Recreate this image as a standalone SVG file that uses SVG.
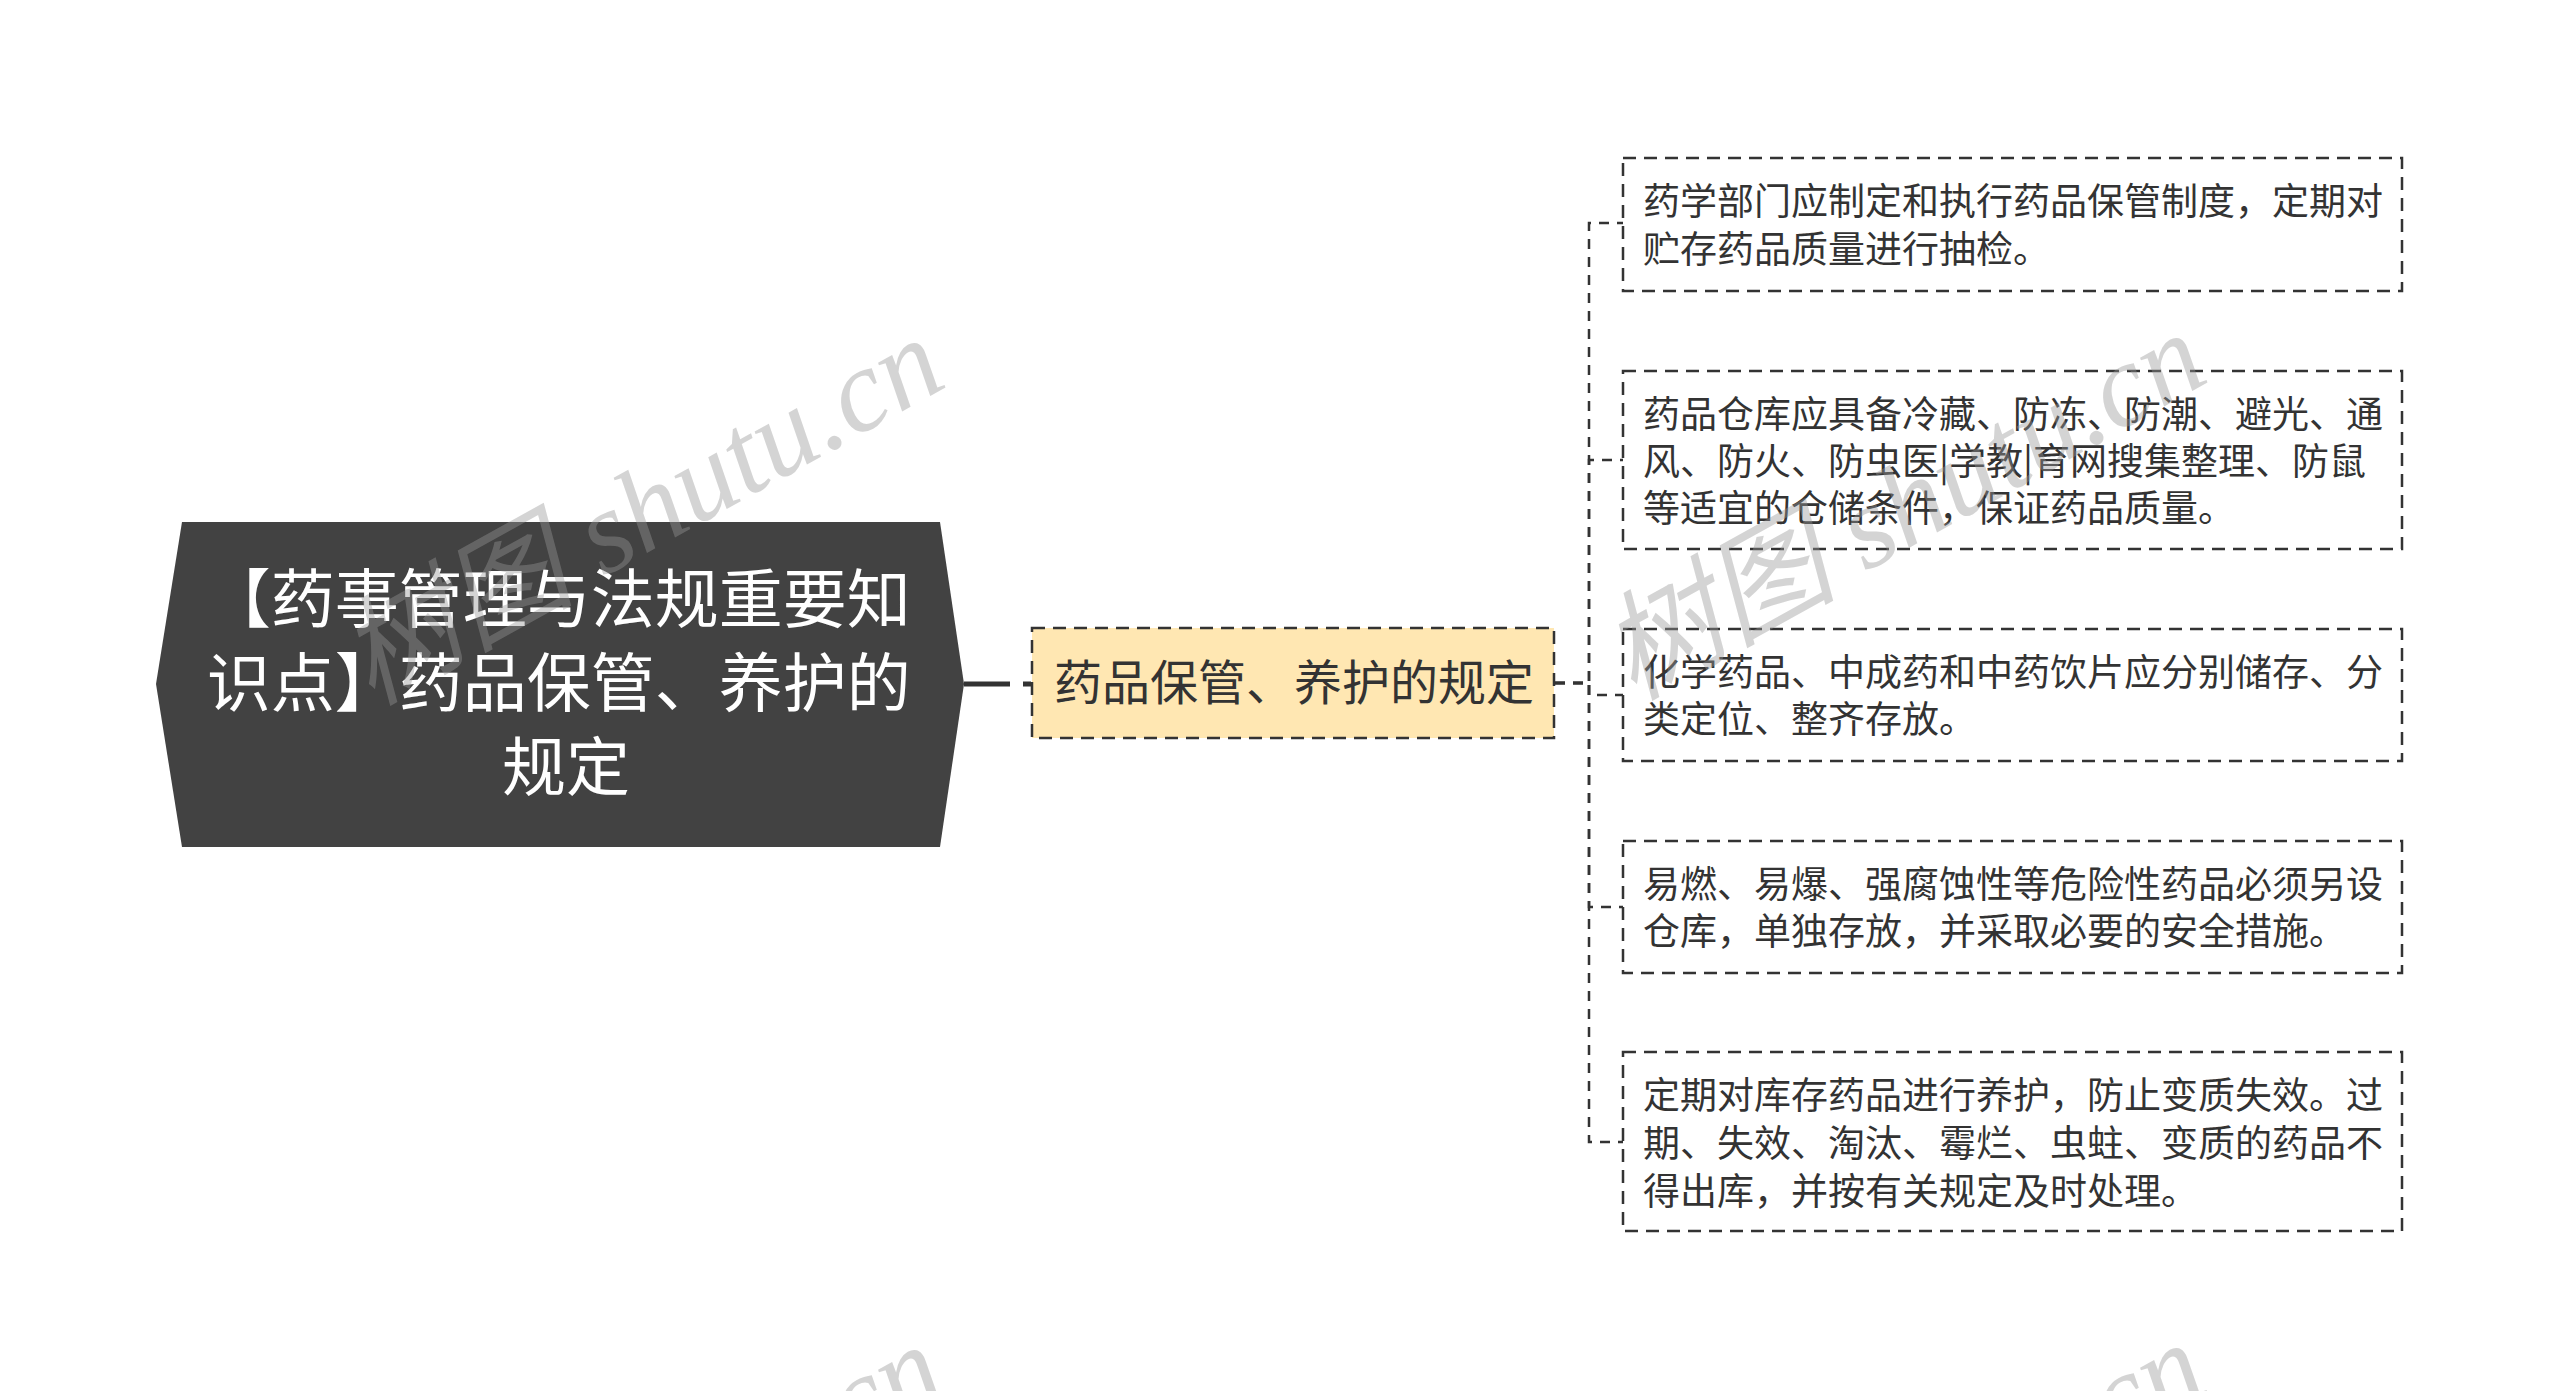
<svg xmlns="http://www.w3.org/2000/svg" width="2560" height="1391" viewBox="0 0 2560 1391">
<style>
.cjk{font-family:"Noto Sans CJK SC","Noto Sans",sans-serif}
.leafbox{fill:#fff;stroke:#333;stroke-width:2.5;stroke-dasharray:13 8}
.leaftxt{font-size:37px;fill:#333}
.conn{fill:none;stroke:#333;stroke-width:2.5;stroke-dasharray:10 8}
.wm{font-family:"Liberation Serif","Noto Sans CJK SC",serif;font-style:italic;font-size:118px;fill:#969696;fill-opacity:0.41}
</style>
<rect width="2560" height="1391" fill="#fff"/>
<g id="connectors">
<path d="M964 684 H1031" fill="none" stroke="#333" stroke-width="5" stroke-dasharray="46 13"/>
<path class="conn" d="M1555 683 H1589 V223 H1623"/>
<path class="conn" d="M1555 683 H1589 V460 H1623"/>
<path class="conn" d="M1555 683 H1589 V695 H1623"/>
<path class="conn" d="M1555 683 H1589 V907 H1623"/>
<path class="conn" d="M1555 683 H1589 V1142 H1623"/>
</g>
<g id="root">
<polygon points="182,522 940,522 964,684 940,847 182,847 156,684" fill="#424242"/>
<text class="cjk" font-size="64" fill="#fff" text-anchor="middle">
<tspan x="566" y="622">【药事管理与法规重要知</tspan>
<tspan x="566" y="706">识点】药品保管、养护的</tspan>
<tspan x="566" y="790">规定</tspan>
</text>
</g>
<g id="main">
<rect x="1032" y="628" width="522" height="110" fill="#FFE7B2" stroke="#333" stroke-width="2.5" stroke-dasharray="13 8"/>
<text class="cjk" font-size="48" fill="#333" text-anchor="middle" x="1294" y="700">药品保管、养护的规定</text>
</g>
<g id="leaf1">
<rect class="leafbox" x="1623" y="158" width="779" height="133"/>
<text class="cjk leaftxt"><tspan x="1643" y="215">药学部门应制定和执行药品保管制度，定期对</tspan><tspan x="1643" y="263">贮存药品质量进行抽检。</tspan></text>
</g>
<g id="leaf2">
<rect class="leafbox" x="1623" y="371" width="779" height="178"/>
<text class="cjk leaftxt"><tspan x="1643" y="428">药品仓库应具备冷藏、防冻、防潮、避光、通</tspan><tspan x="1643" y="475">风、防火、防虫医|学教|育网搜集整理、防鼠</tspan><tspan x="1643" y="522">等适宜的仓储条件，保证药品质量。</tspan></text>
</g>
<g id="leaf3">
<rect class="leafbox" x="1623" y="629" width="779" height="132"/>
<text class="cjk leaftxt"><tspan x="1643" y="686">化学药品、中成药和中药饮片应分别储存、分</tspan><tspan x="1643" y="733">类定位、整齐存放。</tspan></text>
</g>
<g id="leaf4">
<rect class="leafbox" x="1623" y="841" width="779" height="132"/>
<text class="cjk leaftxt"><tspan x="1643" y="898">易燃、易爆、强腐蚀性等危险性药品必须另设</tspan><tspan x="1643" y="945">仓库，单独存放，并采取必要的安全措施。</tspan></text>
</g>
<g id="leaf5">
<rect class="leafbox" x="1623" y="1052" width="779" height="179"/>
<text class="cjk leaftxt"><tspan x="1643" y="1109">定期对库存药品进行养护，防止变质失效。过</tspan><tspan x="1643" y="1157">期、失效、淘汰、霉烂、虫蛀、变质的药品不</tspan><tspan x="1643" y="1205">得出库，并按有关规定及时处理。</tspan></text>
</g>
<g id="watermarks">
<text class="wm" text-anchor="end" transform="translate(950,385) rotate(-29)">树图 shutu.cn</text>
<text class="wm" text-anchor="end" transform="translate(2212,380) rotate(-29)">树图 shutu.cn</text>
<text class="wm" text-anchor="end" transform="translate(950,1392) rotate(-29)">树图 shutu.cn</text>
<text class="wm" text-anchor="end" transform="translate(2212,1390) rotate(-29)">树图 shutu.cn</text>
</g>
</svg>
